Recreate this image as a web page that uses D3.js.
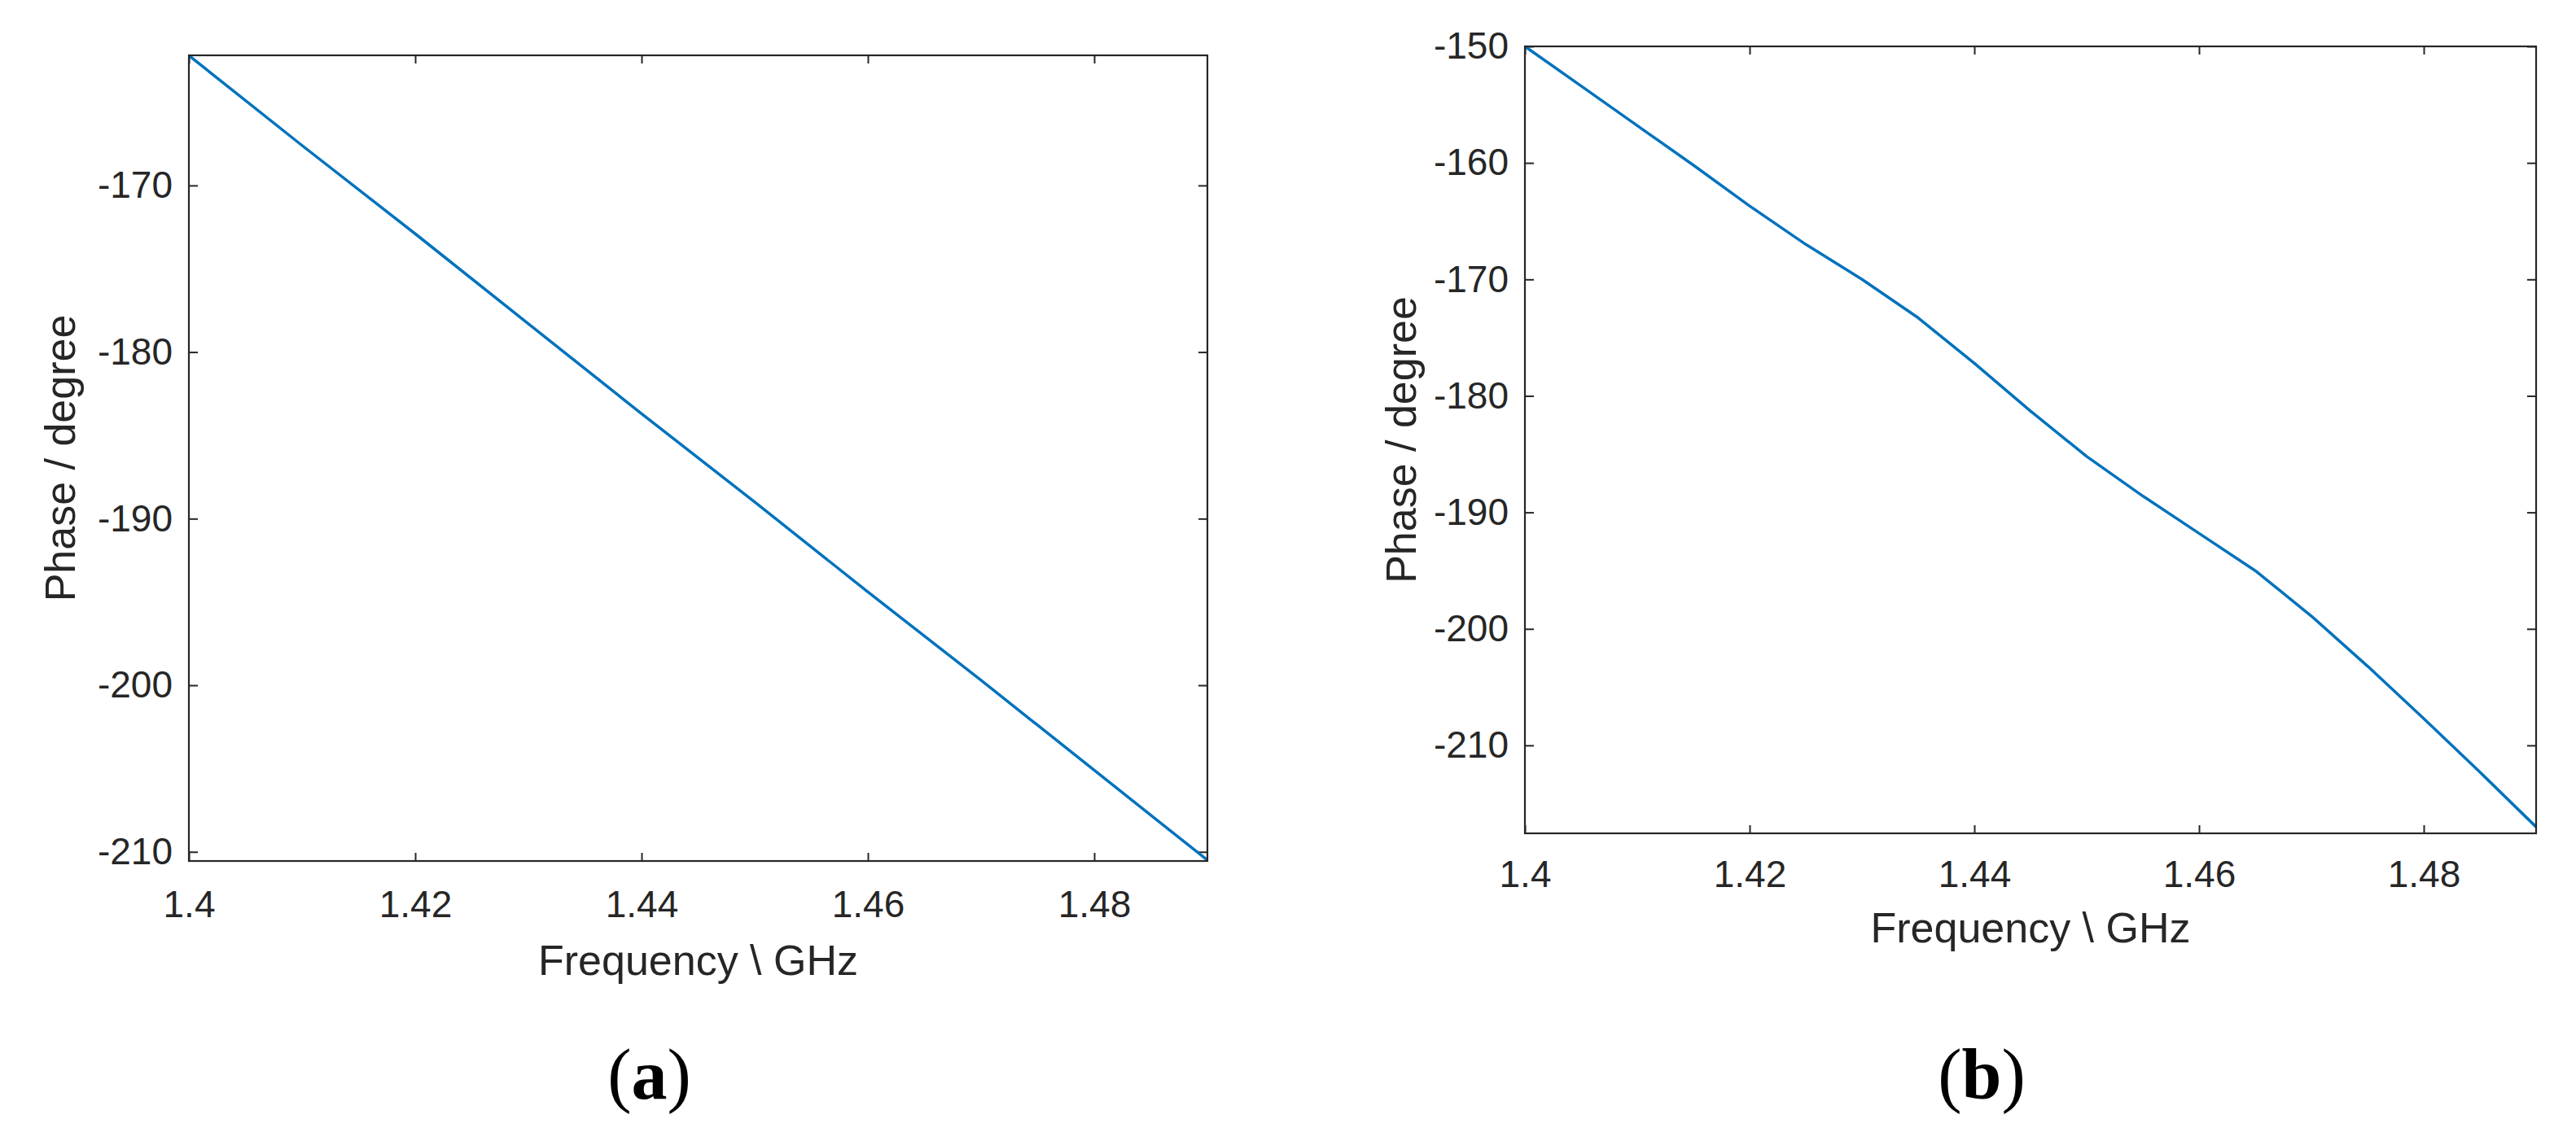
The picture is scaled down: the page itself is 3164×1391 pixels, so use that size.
<!DOCTYPE html>
<html>
<head>
<meta charset="utf-8">
<script src="https://cdn.jsdelivr.net/npm/d3@7"></script>
<style>
  html, body { margin: 0; padding: 0; background: #ffffff; }
  svg { display: block; }
  .tick text { font-family: "Liberation Sans", Arial, sans-serif; font-size: 46px; fill: #262626; }
  .title { font-family: "Liberation Sans", Arial, sans-serif; font-size: 52px; fill: #262626; }
  .caption { font-family: "Liberation Serif", "Times New Roman", serif; font-size: 88px; fill: #000; }
</style>
</head>
<body>
<svg id="chart" width="3164" height="1391"></svg>
<script>
// ---------- data ----------
const xTicks = [1.4, 1.42, 1.44, 1.46, 1.48];
const xTickLabels = ["1.4", "1.42", "1.44", "1.46", "1.48"];

// panel (a)
const freqA  = [1.40, 1.41, 1.42, 1.43, 1.44, 1.45, 1.46, 1.47, 1.48, 1.49];
const phaseA = [-162.2, -167.6, -172.9, -178.3, -183.7, -189.0, -194.4, -199.7, -205.1, -210.5];
const yTicksA = [-170, -180, -190, -200, -210];
const yDomainA = [-210.55, -162.19];

// panel (b)
const freqB  = [1.400, 1.405, 1.410, 1.415, 1.420, 1.425, 1.430, 1.435, 1.440, 1.445,
                1.450, 1.455, 1.460, 1.465, 1.470, 1.475, 1.480, 1.485, 1.490];
const phaseB = [-150.0, -153.4, -156.8, -160.2, -163.7, -167.0, -170.0, -173.3, -177.2, -181.3,
                -185.2, -188.6, -191.8, -195.0, -198.9, -203.2, -207.7, -212.3, -217.0];
const yTicksB = [-150, -160, -170, -180, -190, -200, -210];
const yDomainB = [-217.55, -150];

const xLabel = "Frequency \\ GHz";
const yLabel = "Phase / degree";
const captions = ["(", "a", ")", "(", "b", ")"];

// ---------- layout ----------
const panels = [
  { left: 232, right: 1483, top: 68, bottom: 1058, freq: freqA, phase: phaseA,
    yTicks: yTicksA, yDomain: yDomainA, xPad: 36, xTitleOff: 140, yTitleOff: 140,
    capIdx: 0, capDx: -60 },
  { left: 1873, right: 3115, top: 57, bottom: 1024, freq: freqB, phase: phaseB,
    yTicks: yTicksB, yDomain: yDomainB, xPad: 33, xTitleOff: 134, yTitleOff: 134,
    capIdx: 3, capDx: -60 }
];

const svg = d3.select("#chart");
const axisColor = "#262626";
const lineColor = "#0072BD";

panels.forEach((p, i) => {
  const x = d3.scaleLinear().domain([1.4, 1.49]).range([p.left, p.right]);
  const y = d3.scaleLinear().domain(p.yDomain).range([p.bottom, p.top]);
  const g = svg.append("g");

  const fmtX = d => xTickLabels[xTicks.indexOf(d)];
  const fmtY = d => String(d);

  // bottom axis (inward ticks)
  const gb = g.append("g").attr("transform", `translate(0,${p.bottom})`)
    .call(d3.axisBottom(x).tickValues(xTicks).tickFormat(fmtX).tickSizeInner(-10).tickSizeOuter(0).tickPadding(p.xPad));
  // top axis mirror
  const gt = g.append("g").attr("transform", `translate(0,${p.top})`)
    .call(d3.axisTop(x).tickValues(xTicks).tickFormat("").tickSizeInner(-10).tickSizeOuter(0));
  // left axis
  const gl = g.append("g").attr("transform", `translate(${p.left},0)`)
    .call(d3.axisLeft(y).tickValues(p.yTicks).tickFormat(fmtY).tickSizeInner(-11).tickSizeOuter(0).tickPadding(20));
  // right mirror
  const gr = g.append("g").attr("transform", `translate(${p.right},0)`)
    .call(d3.axisRight(y).tickValues(p.yTicks).tickFormat("").tickSizeInner(-11).tickSizeOuter(0));

  [gb, gt, gl, gr].forEach(a => {
    a.select(".domain").remove();
    a.selectAll(".tick line").attr("stroke", axisColor).attr("stroke-width", 2);
    a.attr("font-size", null).attr("font-family", null);
  });

  // clip + line
  const clipId = "clip" + i;
  svg.append("clipPath").attr("id", clipId).append("rect")
    .attr("x", p.left).attr("y", p.top - 2)
    .attr("width", p.right - p.left + 2).attr("height", p.bottom - p.top + 4);

  const data = p.freq.map((f, k) => [f, p.phase[k]]);
  g.append("path")
    .datum(data)
    .attr("clip-path", `url(#${clipId})`)
    .attr("fill", "none")
    .attr("stroke", lineColor)
    .attr("stroke-width", 3.5)
    .attr("stroke-linejoin", "round")
    .attr("d", d3.line().x(d => x(d[0])).y(d => y(d[1])));

  // box
  g.append("rect")
    .attr("x", p.left).attr("y", p.top)
    .attr("width", p.right - p.left).attr("height", p.bottom - p.top)
    .attr("fill", "none").attr("stroke", axisColor).attr("stroke-width", 2.2);

  const cx = (p.left + p.right) / 2;
  const cy = (p.top + p.bottom) / 2;

  // axis titles
  g.append("text").attr("class", "title")
    .attr("x", cx).attr("y", p.bottom + p.xTitleOff)
    .attr("text-anchor", "middle").text(xLabel);

  g.append("text").attr("class", "title")
    .attr("transform", `translate(${p.left - p.yTitleOff},${cy}) rotate(-90)`)
    .attr("text-anchor", "middle").text(yLabel);

  // caption
  const cap = g.append("text").attr("class", "caption")
    .attr("x", cx + p.capDx).attr("y", 1350).attr("text-anchor", "middle");
  cap.append("tspan").text(captions[p.capIdx]);
  cap.append("tspan").attr("font-weight", "bold").text(captions[p.capIdx + 1]);
  cap.append("tspan").text(captions[p.capIdx + 2]);
});
</script>
</body>
</html>
